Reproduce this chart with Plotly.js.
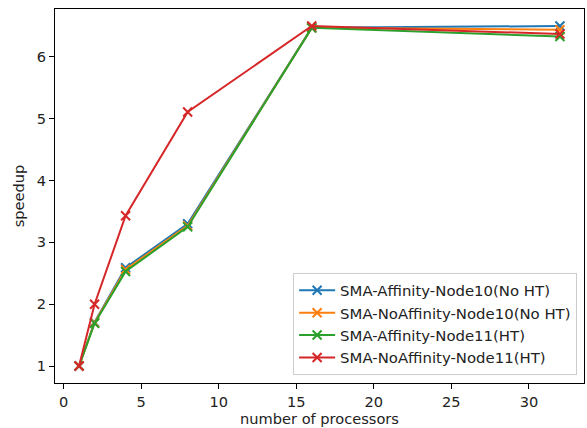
<!DOCTYPE html>
<html>
<head>
<meta charset="utf-8">
<script src="https://cdn.plot.ly/plotly-3.0.1.min.js"></script>
<style>html,body{margin:0;padding:0;background:#fff;}#chart{width:587px;height:428px;}</style>
</head>
<body>
<div id="chart"></div>
<script>
const processors = [1, 2, 4, 8, 16, 32];
const seriesNames = [
  "SMA-Affinity-Node10(No HT)",
  "SMA-NoAffinity-Node10(No HT)",
  "SMA-Affinity-Node11(HT)",
  "SMA-NoAffinity-Node11(HT)"
];
const affinityNode10 = [1.0, 1.71, 2.59, 3.30, 6.47, 6.50];
const noAffinityNode10 = [1.0, 1.70, 2.56, 3.27, 6.47, 6.44];
const affinityNode11 = [1.0, 1.69, 2.53, 3.25, 6.47, 6.33];
const noAffinityNode11 = [1.0, 2.00, 3.43, 5.11, 6.50, 6.37];
const colors = ["#1f77b4", "#ff7f0e", "#2ca02c", "#d62728"];

const seriesValues = [affinityNode10, noAffinityNode10, affinityNode11, noAffinityNode11];
const traces = seriesValues.map((vals, i) => ({
  type: "scatter",
  mode: "lines+markers",
  name: seriesNames[i],
  x: processors,
  y: vals,
  line: {color: colors[i], width: 2},
  marker: {symbol: "x-thin-open", size: 9, color: colors[i], line: {color: colors[i], width: 2}}
}));

const FS = 14.6;
const axisCommon = {
  showgrid: false,
  zeroline: false,
  showline: true,
  linecolor: "#000",
  linewidth: 1,
  mirror: true,
  ticks: "outside",
  ticklen: 5,
  tickwidth: 1,
  tickcolor: "#000",
  tickfont: {family: "DejaVu Sans", size: FS, color: "#222"}
};

const layout = {
  width: 587,
  height: 428,
  margin: {l: 55, r: 3, t: 9, b: 45},
  paper_bgcolor: "#fff",
  plot_bgcolor: "#fff",
  font: {family: "DejaVu Sans", size: FS, color: "#222"},
  xaxis: Object.assign({}, axisCommon, {
    range: [-0.55, 33.55],
    tickvals: [0, 5, 10, 15, 20, 25, 30],
    title: {text: "number of processors", font: {family: "DejaVu Sans", size: FS, color: "#222"}, standoff: 4}
  }),
  yaxis: Object.assign({}, axisCommon, {
    range: [0.725, 6.775],
    tickvals: [1, 2, 3, 4, 5, 6],
    title: {text: "speedup", font: {family: "DejaVu Sans", size: FS, color: "#222"}, standoff: 8}
  }),
  legend: {
    x: 0.987, y: 0.021, xanchor: "right", yanchor: "bottom",
    bgcolor: "rgba(255,255,255,0.8)",
    bordercolor: "#cccccc", borderwidth: 1,
    font: {family: "DejaVu Sans", size: 14.9, color: "#222"},
    itemwidth: 36,
    tracegroupgap: 0
  },
  showlegend: true
};

Plotly.newPlot("chart", traces, layout, {displayModeBar: false, staticPlot: true});
</script>
</body>
</html>
